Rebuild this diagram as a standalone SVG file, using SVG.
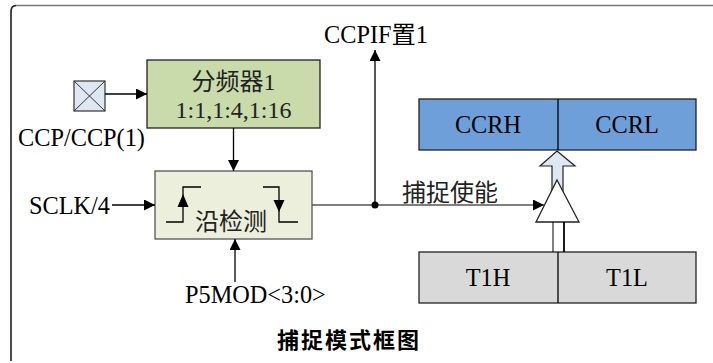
<svg xmlns="http://www.w3.org/2000/svg" width="713" height="363" viewBox="0 0 713 363">
<defs>
<style>
.t{font-family:"Liberation Serif","Noto Sans CJK SC",serif;font-size:24.3px;fill:#000}
.c{font-family:"Liberation Serif","Noto Sans CJK SC",serif;font-size:24px;fill:#222}
.ln{stroke:#000;stroke-width:1.3;fill:none}
.gl{stroke:#555;stroke-width:1.3;fill:none}
.bx{stroke:#222;stroke-width:1.3}
</style>
<marker id="ah" viewBox="0 0 10 10" refX="10" refY="5" markerWidth="11" markerHeight="11" markerUnits="userSpaceOnUse" orient="auto">
<path d="M0,0 L10,5 L0,10 Z" fill="#000"/>
</marker>
</defs>
<rect width="713" height="363" fill="#fff"/>
<!-- frame -->
<path d="M713 5.5 H17 Q11 5.5 11 11.5 V361" fill="none" stroke="#777" stroke-width="1.5"/>
<path d="M16 5.5 Q11 5.5 11 11.5 V361" fill="none" stroke="#222" stroke-width="1.3"/>

<g id="pin">
<rect x="74" y="81" width="31" height="30" fill="#dfe7f3" stroke="#333" stroke-width="1.2"/>
<path d="M74 81 L105 111 M105 81 L74 111" stroke="#333" stroke-width="1"/>
<text class="t" x="18" y="146">CCP/CCP(1)</text>
</g>

<g id="divider">
<rect class="bx" x="147" y="60" width="173" height="68" fill="#c9dbab"/>
<text class="c" x="233.5" y="90" text-anchor="middle">分频器1</text>
<text class="c" x="233.5" y="118" text-anchor="middle">1:1,1:4,1:16</text>
</g>

<g id="edge">
<rect x="155" y="171" width="157" height="68" fill="#ebefdc" stroke="#555" stroke-width="1.3"/>
<path class="ln" d="M166 222 H183 V187 H201"/>
<path d="M183 194 L177.5 207 L188.5 207 Z" fill="#000"/>
<path class="ln" d="M263 187 H279 V222 H298"/>
<path d="M279 212 L273.5 200 L284.5 200 Z" fill="#000"/>
<text class="c" x="231" y="230" text-anchor="middle">沿检测</text>
</g>

<g id="ccr">
<rect class="bx" x="419" y="99" width="277" height="51" fill="#6f9fd8"/>
<line class="ln" x1="558" y1="99" x2="558" y2="150"/>
<text class="t" x="488" y="133" text-anchor="middle">CCRH</text>
<text class="t" x="627" y="133" text-anchor="middle">CCRL</text>
</g>

<g id="t1">
<rect class="bx" x="419" y="252" width="277" height="51" fill="#d9d9d9"/>
<line class="ln" x1="558" y1="252" x2="558" y2="303"/>
<text class="t" x="488" y="286" text-anchor="middle">T1H</text>
<text class="t" x="627" y="286" text-anchor="middle">T1L</text>
</g>

<g id="gate">
<path d="M557 151 L575 166 L563 166 L563 192 L552 192 L552 166 L540 166 Z" fill="#dfe7f3" stroke="#222" stroke-width="1.2"/>
<path d="M557 180 L579 222 L536 222 Z" fill="#fff" stroke="#222" stroke-width="1.3"/>
<line x1="553" y1="222" x2="553" y2="252" stroke="#000" stroke-width="1"/>
<line x1="564" y1="222" x2="564" y2="252" stroke="#000" stroke-width="1.8"/>
</g>

<g id="labels">
<text class="t" x="324" y="43">CCPIF置1</text>
<text class="t" x="29" y="214">SCLK/4</text>
<text class="t" x="185" y="303">P5MOD&lt;3:0&gt;</text>
<text class="c" x="402" y="201">捕捉使能</text>
<text x="349" y="348" text-anchor="middle" font-family="'Noto Sans CJK SC',sans-serif" font-weight="bold" font-size="22" letter-spacing="2" fill="#000">捕捉模式框图</text>
</g>

<g id="connectors">
<line class="ln" x1="105" y1="94" x2="147" y2="94" marker-end="url(#ah)"/>
<line class="ln" x1="233.5" y1="128" x2="233.5" y2="171" marker-end="url(#ah)"/>
<line class="ln" x1="112" y1="205" x2="155" y2="205" marker-end="url(#ah)"/>
<line class="ln" x1="235" y1="282" x2="235" y2="239" marker-end="url(#ah)"/>
<line class="gl" x1="312" y1="205" x2="375" y2="205"/>
<line class="gl" x1="375" y1="205" x2="544" y2="205" marker-end="url(#ah)"/>
<line class="ln" x1="375" y1="205" x2="375" y2="50" marker-end="url(#ah)"/>
<circle cx="375" cy="205" r="3.5" fill="#000"/>
</g>
</svg>
